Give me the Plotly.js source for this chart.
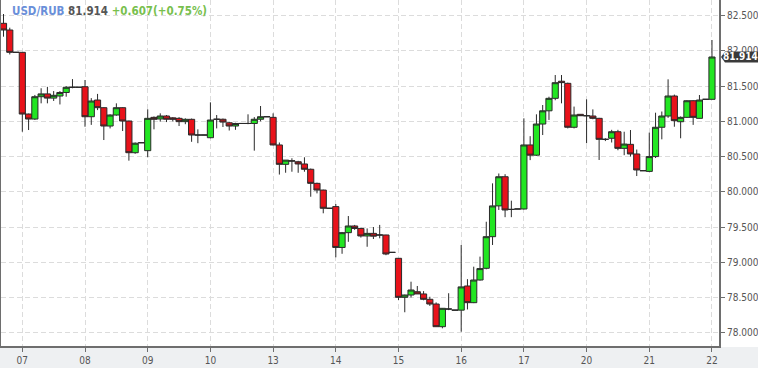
<!DOCTYPE html>
<html>
<head>
<meta charset="utf-8">
<script src="https://cdn.plot.ly/plotly-3.0.1.min.js"></script>
<style>
html,body{margin:0;padding:0;background:#fff;}
#chart{width:758px;height:368px;}
</style>
</head>
<body>
<div id="chart"></div>
<script>
// Day labels and the candle index at which each day starts (10 candles per day)
var dayLabels = ['07','08','09','10','13','14','15','16','17','20','21','22'];
var dayStart  = [0, 10, 20, 30, 40, 50, 60, 70, 80, 90, 100, 110];
var firstIndex = -3; // three candles of the previous day are visible

var openV = [
  82.392, 82.297, 81.98,
  81.98, 81.104, 81.033, 81.35, 81.39, 81.33, 81.36, 81.41, 81.484, 81.484,
  81.492, 81.066, 81.303, 81.194, 80.934, 81.09, 81.194, 81.005, 80.555, 80.697,
  80.584, 81.057, 81.034, 81.076, 81.05, 81.043, 80.996, 81.029, 80.806, 80.806,
  80.768, 81.03, 81.03, 80.98, 80.934, 80.97, 80.97, 80.97, 81.03, 81.066,
  81.057, 80.665, 80.39, 80.44, 80.427, 80.395, 80.32, 80.12, 80.025, 79.766,
  79.79, 79.21, 79.42, 79.515, 79.48, 79.373, 79.41, 79.387, 79.387, 79.14,
  79.056, 78.502, 78.535, 78.582, 78.55, 78.474, 78.407, 78.085, 78.336, 78.32,
  78.32, 78.663, 78.426, 78.748, 78.914, 79.363, 79.8, 80.214, 79.75, 79.756,
  79.756, 80.665, 80.52, 80.962, 81.15, 81.327, 81.57, 81.54, 80.916, 81.1,
  81.08, 81.076, 81.043, 80.745, 80.76, 80.853, 80.617, 80.674, 80.537, 80.30,
  80.29, 80.5, 80.916, 81.076, 81.36, 80.995, 81.057, 81.293, 81.043, 81.313,
  81.313
];
var highV = [
  82.524, 82.33, 81.98,
  81.98, 81.11, 81.375, 81.47, 81.49, 81.43, 81.43, 81.5, 81.60, 81.484,
  81.587, 81.33, 81.39, 81.2, 81.1, 81.256, 81.2, 81.01, 80.70, 80.697,
  81.171, 81.07, 81.114, 81.09, 81.06, 81.06, 81.043, 81.04, 80.887, 80.806,
  81.27, 81.09, 81.04, 80.99, 80.98, 80.97, 81.10, 81.06, 81.218, 81.066,
  81.114, 80.70, 80.45, 80.476, 80.44, 80.49, 80.33, 80.13, 80.03, 79.766,
  79.827, 79.43, 79.656, 79.53, 79.49, 79.48, 79.50, 79.53, 79.39, 79.14,
  79.06, 78.54, 78.724, 78.663, 78.59, 78.51, 78.43, 78.35, 78.56, 78.32,
  79.245, 78.76, 78.937, 79.08, 79.575, 80.12, 80.26, 80.25, 79.874, 79.756,
  81.043, 80.79, 81.1, 81.232, 81.35, 81.658, 81.658, 81.55, 81.21, 81.1,
  81.313, 81.17, 81.05, 80.76, 80.88, 80.88, 80.853, 80.877, 80.60, 80.30,
  80.84, 81.123, 81.14, 81.597, 81.38, 81.07, 81.30, 81.30, 81.374, 81.313,
  82.155
];
var lowV = [
  82.202, 81.95, 81.98,
  80.853, 80.877, 81.02, 81.256, 81.256, 81.29, 81.24, 81.35, 81.47, 81.484,
  80.924, 80.95, 81.16, 80.735, 80.90, 81.08, 80.863, 80.442, 80.54, 80.697,
  80.49, 80.887, 80.996, 80.99, 81.0, 80.934, 80.96, 80.71, 80.69, 80.806,
  80.76, 80.90, 80.92, 80.87, 80.88, 80.97, 80.96, 80.584, 81.0, 81.066,
  80.66, 80.245, 80.271, 80.285, 80.27, 80.285, 79.93, 79.978, 79.695, 79.766,
  79.07, 79.12, 79.29, 79.46, 79.35, 79.22, 79.33, 79.34, 79.10, 79.14,
  78.464, 78.29, 78.50, 78.55, 78.46, 78.38, 78.085, 78.062, 78.32, 78.32,
  78.014, 78.33, 78.42, 78.74, 78.90, 79.245, 79.742, 79.64, 79.64, 79.756,
  79.75, 80.45, 80.51, 80.806, 81.02, 81.3, 81.256, 80.9, 80.9, 81.08,
  80.69, 81.03, 80.452, 80.72, 80.70, 80.59, 80.52, 80.50, 80.224, 80.30,
  80.28, 80.48, 80.745, 81.05, 80.924, 80.76, 81.05, 80.95, 81.04, 81.313,
  81.31
];
var closeV = [
  82.297, 81.98, 81.98,
  81.104, 81.033, 81.35, 81.39, 81.33, 81.37, 81.41, 81.484, 81.484, 81.484,
  81.066, 81.289, 81.194, 80.934, 81.09, 81.194, 81.005, 80.555, 80.69, 80.697,
  81.043, 81.029, 81.076, 81.03, 81.03, 80.996, 81.029, 80.806, 80.806, 80.806,
  81.019, 81.03, 80.99, 80.934, 80.97, 80.97, 80.97, 81.03, 81.066, 81.066,
  80.665, 80.39, 80.45, 80.437, 80.395, 80.32, 80.12, 80.025, 79.766, 79.766,
  79.21, 79.42, 79.515, 79.48, 79.373, 79.41, 79.37, 79.387, 79.117, 79.14,
  78.502, 78.535, 78.606, 78.55, 78.474, 78.407, 78.085, 78.346, 78.336, 78.32,
  78.65, 78.426, 78.748, 78.91, 79.363, 79.8, 80.214, 79.742, 79.75, 79.756,
  80.665, 80.52, 80.962, 81.15, 81.327, 81.549, 81.55, 80.916, 81.09, 81.08,
  81.08, 81.043, 80.745, 80.745, 80.853, 80.617, 80.678, 80.537, 80.31, 80.30,
  80.5, 80.916, 81.076, 81.36, 81.01, 81.057, 81.293, 81.057, 81.303, 81.313,
  81.914
];
var lastPrice = 81.914;
var titleParts = ['USD/RUB', '81.914', '+0.607(+0.75%)'];

var xIdx = openV.map(function(_, i){ return i + firstIndex; });

var FONT = 'DejaVu Sans Condensed, DejaVu Sans, sans-serif';

var trace = {
  type: 'candlestick',
  x: xIdx, open: openV, high: highV, low: lowV, close: closeV,
  increasing: {line: {color: '#2a2a2a', width: 1}, fillcolor: '#22e622'},
  decreasing: {line: {color: '#2a2a2a', width: 1}, fillcolor: '#e8121a'},
  whiskerwidth: 0,
  hoverinfo: 'skip',
  showlegend: false
};

var plotH = 346;
var layout = {
  width: 758, height: 368,
  margin: {l: 1, r: 39, t: 0, b: 22, pad: 0},
  paper_bgcolor: '#ffffff',
  plot_bgcolor: '#ffffff',
  boxgap: 0.02, boxgroupgap: 0,
  showlegend: false,
  font: {family: FONT, size: 10, color: '#555'},
  xaxis: {
    type: 'linear',
    range: [-3.40, 111.12],
    tickmode: 'array', tickvals: dayStart, ticktext: dayLabels,
    showgrid: true, gridcolor: '#dcdcdc', gridwidth: 1, griddash: '5px,3px',
    showline: true, linecolor: '#6e6e6e', linewidth: 2,
    ticks: 'outside', ticklen: 4, tickcolor: '#6e6e6e',
    tickfont: {family: FONT, size: 10, color: '#555'},
    zeroline: false, fixedrange: true,
    rangeslider: {visible: false}
  },
  yaxis: {
    side: 'right',
    range: [77.811, 82.723],
    tick0: 78, dtick: 0.5, tickformat: '.3f',
    showgrid: true, gridcolor: '#dcdcdc', gridwidth: 1, griddash: '5px,3px',
    showline: true, linecolor: '#6e6e6e', linewidth: 2, mirror: true,
    ticks: 'outside', ticklen: 4, tickcolor: '#6e6e6e',
    tickfont: {family: FONT, size: 10, color: '#555'},
    zeroline: false, fixedrange: true
  },
  shapes: [
    {type: 'rect', xref: 'paper', yref: 'paper', x0: -0.01, x1: 1.1,
     y0: -22/plotH, y1: -1/plotH, fillcolor: '#eef0f2', line: {width: 0}, layer: 'below'},
    {type: 'path', xref: 'paper', xsizemode: 'pixel', xanchor: 1,
     yref: 'y', ysizemode: 'pixel', yanchor: lastPrice,
     path: 'M 2 0 L 6 -5.5 L 42 -5.5 L 42 5.5 L 6 5.5 Z',
     fillcolor: '#3a3a3a', line: {width: 0}}
  ],
  annotations: [
    {xref: 'paper', yref: 'paper', x: 0, y: 1, xanchor: 'left', yanchor: 'top',
     xshift: 9, yshift: -2, showarrow: false, align: 'left',
     font: {family: FONT, size: 11.5},
     text: '<b><span style="color:#6a8fd9">' + titleParts[0] + '</span> ' +
           '<span style="color:#555">' + titleParts[1] + '</span> ' +
           '<span style="color:#78bf4e">' + titleParts[2] + '</span></b>'},
    {xref: 'paper', yref: 'y', x: 1, y: lastPrice, xanchor: 'left', yanchor: 'middle',
     xshift: 3, borderpad: 0, showarrow: false,
     font: {family: FONT, size: 10, color: '#ffffff'},
     text: '<b>' + lastPrice.toFixed(3) + '</b>'}
  ]
};

Plotly.newPlot('chart', [trace], layout, {displayModeBar: false, staticPlot: true});
</script>
</body>
</html>
